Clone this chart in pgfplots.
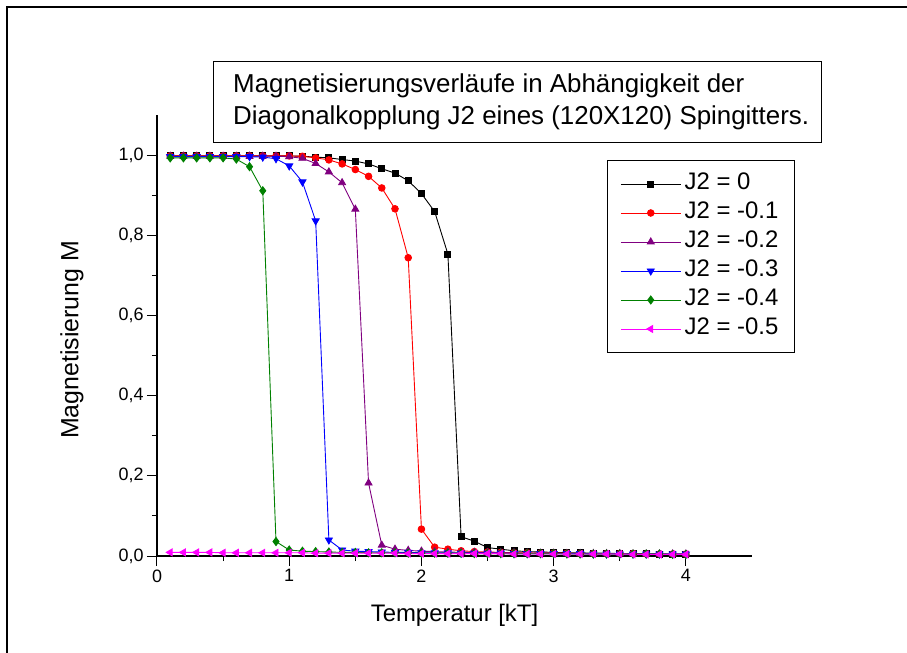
\documentclass[border=0pt]{standalone}
\usepackage{pgfplots}
\usepackage{pgfplotstable}
\pgfplotsset{compat=1.18}
\usepackage{fontspec}
\setmainfont{Liberation Sans}

\definecolor{opurple}{RGB}{128,0,128}
\definecolor{ogreen}{RGB}{0,128,0}
\definecolor{omagenta}{RGB}{255,0,255}

% Magnetisierung M gegen Temperatur kT, eine Spalte je J2
\pgfplotstableread{
T    j0    j1    j2    j3    j4    j5
0.1  0.998 0.998 0.997 0.996 0.993 0.009
0.2  0.998 0.998 0.997 0.996 0.993 0.009
0.3  0.998 0.998 0.997 0.996 0.993 0.009
0.4  0.998 0.998 0.997 0.996 0.993 0.009
0.5  0.998 0.998 0.997 0.996 0.993 0.008
0.6  0.998 0.998 0.997 0.996 0.990 0.008
0.7  0.998 0.998 0.997 0.996 0.971 0.008
0.8  0.998 0.998 0.997 0.995 0.911 0.008
0.9  0.998 0.998 0.997 0.991 0.036 0.008
1.0  0.998 0.998 0.996 0.973 0.015 0.008
1.1  0.997 0.997 0.992 0.933 0.012 0.008
1.2  0.995 0.993 0.979 0.836 0.011 0.007
1.3  0.993 0.988 0.958 0.040 0.010 0.007
1.4  0.989 0.978 0.931 0.015 0.009 0.007
1.5  0.985 0.964 0.865 0.012 0.009 0.007
1.6  0.978 0.947 0.182 0.011 0.008 0.007
1.7  0.966 0.918 0.027 0.010 0.008 0.007
1.8  0.955 0.866 0.017 0.009 0.008 0.007
1.9  0.936 0.744 0.014 0.009 0.007 0.006
2.0  0.904 0.067 0.012 0.008 0.007 0.006
2.1  0.859 0.022 0.011 0.008 0.007 0.006
2.2  0.753 0.017 0.010 0.008 0.007 0.006
2.3  0.048 0.013 0.009 0.007 0.007 0.006
2.4  0.037 0.011 0.009 0.007 0.006 0.006
2.5  0.021 0.010 0.008 0.007 0.006 0.006
2.6  0.017 0.009 0.008 0.007 0.006 0.006
2.7  0.013 0.008 0.008 0.006 0.006 0.005
2.8  0.011 0.008 0.007 0.006 0.006 0.005
2.9  0.010 0.007 0.007 0.006 0.006 0.005
3.0  0.009 0.007 0.007 0.006 0.006 0.005
3.1  0.008 0.007 0.006 0.006 0.005 0.005
3.2  0.008 0.006 0.006 0.006 0.005 0.005
3.3  0.007 0.006 0.006 0.005 0.005 0.005
3.4  0.007 0.006 0.006 0.005 0.005 0.005
3.5  0.006 0.006 0.006 0.005 0.005 0.005
3.6  0.006 0.006 0.005 0.005 0.005 0.004
3.7  0.006 0.005 0.005 0.005 0.005 0.004
3.8  0.005 0.005 0.005 0.005 0.005 0.004
3.9  0.005 0.005 0.005 0.005 0.004 0.004
4.0  0.005 0.005 0.005 0.005 0.004 0.004
}\magtable

\begin{document}
\begin{tikzpicture}
\useasboundingbox (-157bp,-97bp) rectangle (750bp,556bp);
% Rahmen (rechts und unten abgeschnitten)
\draw[line width=1.5bp] (-150bp,-97bp) -- (-150bp,549bp) -- (750bp,549bp);
\begin{axis}[
  scale only axis,
  width=595bp, height=441bp,
  xmin=0, xmax=4.5, ymin=0, ymax=1.1,
  axis x line=bottom, axis y line=left,
  axis line style={-, line width=1.2bp},
  tick align=outside,
  major tick length=10bp, minor tick length=5bp,
  every tick/.style={black, line width=1bp},
  xtick={0,1,2,3,4}, ytick={0,0.2,...,1.0},
  minor tick num=1,
  /pgf/number format/assume math mode=true,
  tick label style={font=\fontsize{18}{18}\selectfont},
  yticklabel style={/pgf/number format/.cd, fixed, fixed zerofill, precision=1, use comma},
  xticklabel style={/pgf/number format/.cd, fixed, precision=0},
  xlabel={Temperatur [kT]},
  ylabel={Magnetisierung M},
  xlabel style={font=\fontsize{24}{24}\selectfont, at={(axis description cs:0.5,-0.134)}, anchor=center},
  ylabel style={font=\fontsize{25}{25}\selectfont, at={(axis description cs:-0.143,0.49)}, anchor=center},
  legend cell align=left,
  legend style={at={(rel axis cs:0.756,0.898)}, anchor=north west,
    draw=black, line width=1bp, font=\fontsize{24}{24}\selectfont,
    inner xsep=13bp, inner ysep=9bp,
    nodes={text height=17bp, text depth=5bp, inner sep=3.5bp}},
  legend image code/.code={\draw[mark repeat=2,mark phase=2] plot coordinates {(0bp,0bp) (30bp,0bp) (60bp,0bp)};},
  every axis plot/.append style={line width=0.9bp},
]
\addplot[black, mark=square*, mark size=3bp] table[x=T, y=j0] {\magtable};
\addplot[red, mark=*, mark size=3.3bp] table[x=T, y=j1] {\magtable};
\addplot[opurple, mark=triangle*, mark size=4bp] table[x=T, y=j2] {\magtable};
\addplot[blue, mark=triangle*, mark size=4bp, mark options={rotate=180}] table[x=T, y=j3] {\magtable};
\addplot[ogreen, mark=diamond*, mark size=4bp] table[x=T, y=j4] {\magtable};
\addplot[omagenta, mark=triangle*, mark size=4bp, mark options={rotate=90}] table[x=T, y=j5] {\magtable};
\legend{J2 = 0, J2 = -0.1, J2 = -0.2, J2 = -0.3, J2 = -0.4, J2 = -0.5}
\end{axis}
\draw[line width=1bp] (56bp,413bp) rectangle (664bp,494bp);
\node[anchor=west, align=left, inner sep=0pt,
  font=\fontsize{26}{32}\selectfont] at (76bp,454bp)
  {Magnetisierungsverläufe in Abhängigkeit der\\Diagonalkopplung J2 eines (120X120) Spingitters.};
\end{tikzpicture}
\end{document}
